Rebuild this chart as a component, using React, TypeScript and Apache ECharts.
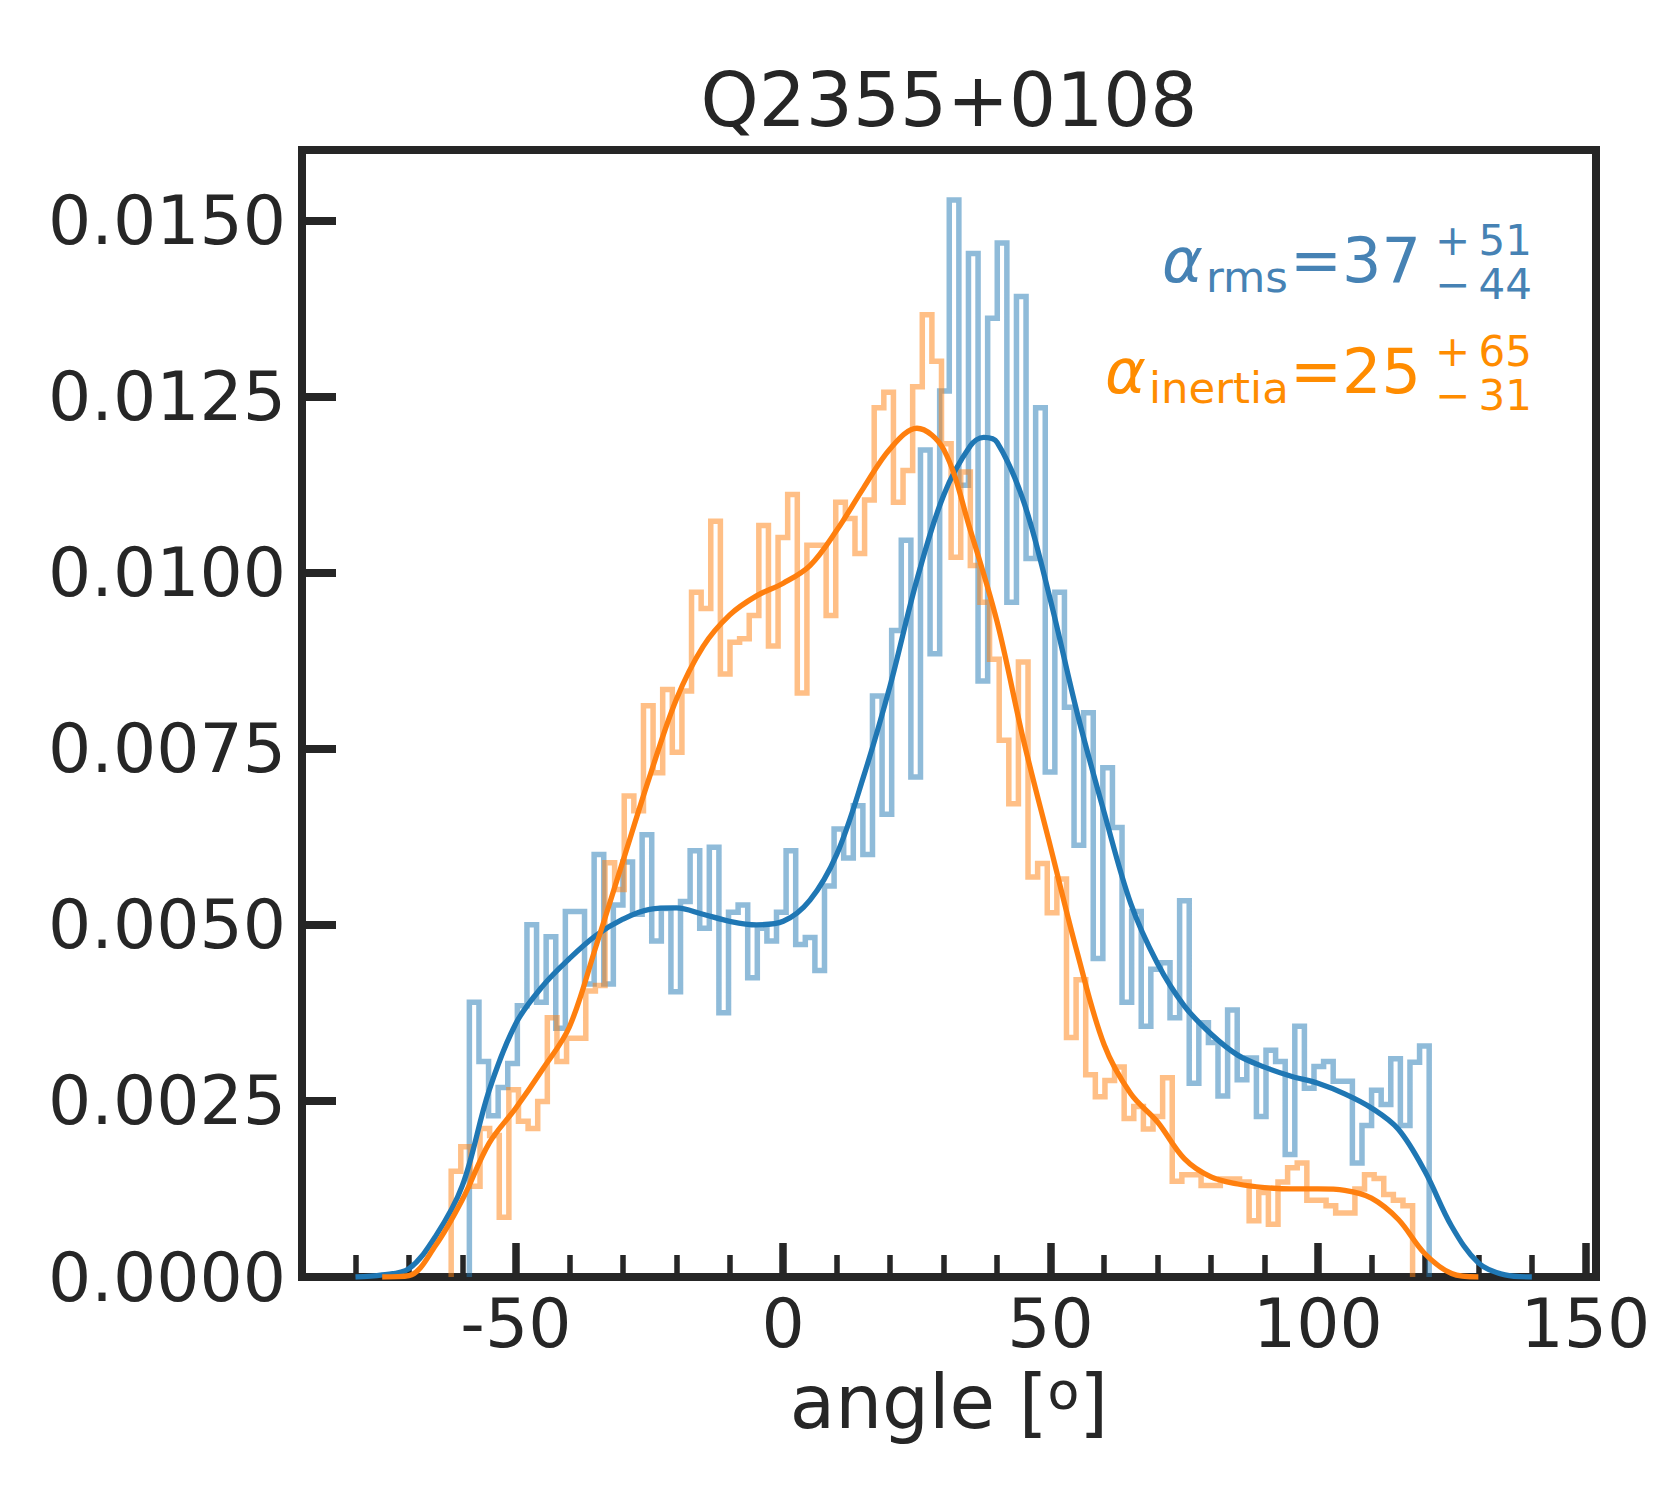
import React, { useEffect, useRef } from "react";
import * as echarts from "echarts";

// ---------- data ----------
const TITLE = "Q2355+0108";
const X_MIN = -90;
const X_MAX = 152;
const Y_MIN = 0;
const Y_MAX = 0.016;
const Y_TICKS = [0, 0.0025, 0.005, 0.0075, 0.01, 0.0125, 0.015];
const X_MAJOR = [-50, 0, 50, 100, 150];
const X_MINOR = [-80, -70, -60, -40, -30, -20, -10, 10, 20, 30, 40, 60, 70, 80, 90, 110, 120, 130, 140];

// histogram densities, in units of 1e-3 (100 equal bins over the range)
const UNIT = 1e-3;
const RMS_RANGE = [-58.7, 120.8];
const RMS_HIST = [
  3.9, 3.06, 2.29, 2.69, 3.03, 3.85, 5.0, 3.9, 4.83, 3.53,
  5.19, 5.19, 4.16, 6.0, 4.16, 5.28, 5.89, 5.15, 6.28, 4.77,
  5.23, 4.05, 5.33, 6.05, 4.95, 6.1, 3.75, 5.18, 5.28, 4.25,
  4.95, 4.77, 5.18, 6.05, 4.72, 4.82, 4.35, 5.55, 6.36, 5.95,
  6.69, 6.0, 8.25, 6.57, 9.18, 10.46, 7.1, 11.74, 8.85, 12.58,
  15.29, 11.24, 14.53, 8.46, 13.61, 14.68, 9.58, 13.92, 10.2, 12.34,
  7.17, 9.72, 8.09, 6.13, 8.01, 4.52, 7.23, 6.38, 3.9, 5.19,
  3.56, 4.37, 4.46, 3.68, 5.34, 2.75, 3.61, 3.33, 2.57, 3.79,
  2.8, 3.11, 2.28, 3.22, 3.06, 1.74, 3.56, 2.68, 2.99, 3.06,
  2.78, 2.78, 1.62, 2.15, 2.65, 2.45, 3.1, 2.15, 3.05, 3.28,
];
const INERTIA_RANGE = [-62.1, 117.7];
const INERTIA_HIST = [
  1.5, 1.85, 1.29, 2.11, 2.01, 0.85, 2.66, 2.21, 2.11, 2.49,
  3.68, 3.06, 3.39, 3.39, 4.06, 4.14, 5.88, 5.5, 6.83, 6.62,
  8.11, 7.16, 8.34, 7.45, 8.32, 9.72, 9.49, 10.73, 8.56, 9.01,
  9.06, 9.39, 10.67, 8.96, 10.5, 11.11, 8.29, 10.39, 10.39, 9.39,
  11.0, 10.77, 10.27, 11.03, 12.34, 12.56, 11.0, 11.45, 12.64, 13.66,
  13.0, 11.83, 10.22, 11.43, 10.1, 9.58, 8.77, 7.62, 6.72, 8.73,
  5.68, 5.87, 5.17, 5.65, 3.4, 4.22, 2.87, 2.56, 2.79, 2.98,
  2.25, 2.42, 2.1, 2.28, 2.83, 1.36, 1.45, 1.45, 1.3, 1.3,
  1.39, 1.39, 1.35, 0.8, 1.2, 0.75, 1.35, 1.55, 1.62, 1.09,
  1.09, 1.01, 0.91, 0.91, 1.25, 1.45, 1.4, 1.17, 1.09, 1.01,
];

// kernel density curves (x in degrees, y in units of 1e-3)
const RMS_KDE_X = [-80, -75, -70, -65, -60, -55, -50, -45, -40, -35, -30, -25, -20, -15, -10, -5, 0, 5, 10, 15, 20, 25, 30, 35, 37.5, 40, 45, 50, 55, 60, 65, 70, 75, 80, 85, 90, 95, 100, 105, 110, 115, 120, 125, 130, 135, 140];
const RMS_KDE_Y = [0, 0.03, 0.12, 0.58, 1.3, 2.65, 3.6, 4.13, 4.52, 4.85, 5.08, 5.22, 5.24, 5.15, 5.05, 5.0, 5.05, 5.35, 6.0, 7.1, 8.4, 9.9, 11.1, 11.8, 11.92, 11.85, 11.0, 9.6, 8.0, 6.6, 5.3, 4.45, 3.85, 3.45, 3.15, 2.98, 2.85, 2.75, 2.6, 2.4, 2.1, 1.5, 0.72, 0.2, 0.03, 0];
const INERTIA_KDE_X = [-75, -70, -65, -60, -55, -50, -45, -40, -35, -30, -25, -20, -15, -10, -5, 0, 5, 10, 15, 20, 25, 30, 35, 40, 45, 50, 55, 60, 65, 70, 75, 80, 85, 90, 95, 100, 105, 110, 115, 120, 125, 130];
const INERTIA_KDE_Y = [0, 0.02, 0.45, 1.1, 1.9, 2.4, 2.95, 3.55, 4.7, 5.9, 7.1, 8.2, 8.95, 9.4, 9.67, 9.85, 10.1, 10.6, 11.2, 11.76, 12.05, 11.75, 10.6, 9.3, 7.6, 6.1, 4.6, 3.3, 2.6, 2.2, 1.68, 1.42, 1.32, 1.27, 1.25, 1.25, 1.23, 1.12, 0.82, 0.33, 0.05, 0];

// annotation texts
const RMS_LABEL = { sym: "α", sub: "rms", val: "=37", plus: "51", minus: "44" };
const INERTIA_LABEL = { sym: "α", sub: "inertia", val: "=25", plus: "65", minus: "31" };

// ---------- styling ----------
const FONT = "DejaVu Sans";
const INK = "#262626";
const BLUE = "#1f77b4";
const ORANGE = "#ff7f0e";
const BLUE_TXT = "#4682b4";
const ORANGE_TXT = "#ff8c00";

function histSteps(range: number[], vals: number[]) {
  const lo = range[0];
  const hi = range[1];
  const w = (hi - lo) / vals.length;
  const pts: number[][] = [[lo, 0]];
  vals.forEach((v, i) => pts.push([lo + i * w, v * UNIT]));
  pts.push([hi, vals[vals.length - 1] * UNIT]);
  pts.push([hi, 0]);
  return pts;
}

function curve(xs: number[], ys: number[]) {
  return xs.map((x, i) => [x, ys[i] * UNIT]);
}

function txt(text: string, x: number, y: number, size: number, color: string, align = "left", italic = false) {
  return {
    type: "text",
    x,
    y,
    silent: true,
    z: 20,
    style: {
      text,
      fontSize: size,
      fontFamily: FONT,
      fontStyle: italic ? "italic" : "normal",
      fill: color,
      align,
      verticalAlign: "middle",
      textAlign: align,
      textVerticalAlign: "middle",
    },
  };
}

function annotation(lab: typeof RMS_LABEL, color: string, symX: number, subX: number, yMain: number, ySub: number, ySup: number, yLow: number) {
  const big = 62;
  const small = 42;
  return [
    txt(lab.sym, symX, yMain, big, color, "left", true),
    txt(lab.sub, subX, ySub, 43.4, color),
    txt(lab.val, 1290, yMain, big, color),
    txt("+\u2009" + lab.plus, 1435, ySup, small, color),
    txt("\u2212\u2009" + lab.minus, 1435, yLow, small, color),
  ];
}

function buildOption() {
  const tickLabel = { fontSize: 68, color: INK, fontFamily: FONT };
  return {
    animation: false,
    backgroundColor: "#ffffff",
    grid: {
      left: 302,
      top: 150,
      width: 1294,
      height: 1127,
      containLabel: false,
      outerBoundsMode: "none",
      show: true,
      borderColor: INK,
      borderWidth: 8,
      backgroundColor: "transparent",
    },
    xAxis: [
      {
        type: "value",
        position: "bottom",
        min: X_MIN,
        max: X_MAX,
        axisLine: { show: false, onZero: false },
        splitLine: { show: false },
        axisTick: {
          show: true,
          inside: true,
          length: 34,
          customValues: X_MAJOR,
          lineStyle: { color: INK, width: 7.5 },
        },
        axisLabel: {
          show: true,
          customValues: X_MAJOR,
          margin: 12,
          ...tickLabel,
        },
        name: "{a|angle [}{s|o}{a|]}",
        nameLocation: "middle",
        nameGap: 88,
        nameTextStyle: {
          fontSize: 74,
          color: INK,
          fontFamily: FONT,
          rich: {
            a: { fontSize: 74, color: INK, fontFamily: FONT, verticalAlign: "middle" },
            s: { fontSize: 52, color: INK, fontFamily: FONT, verticalAlign: "top" },
          },
        },
      },
      {
        type: "value",
        position: "bottom",
        min: X_MIN,
        max: X_MAX,
        axisLine: { show: false, onZero: false },
        splitLine: { show: false },
        axisLabel: { show: false },
        axisTick: {
          show: true,
          inside: true,
          length: 22,
          customValues: X_MINOR,
          lineStyle: { color: INK, width: 5.5 },
        },
      },
    ],
    yAxis: [
      {
        type: "value",
        position: "left",
        min: Y_MIN,
        max: Y_MAX,
        axisLine: { show: false, onZero: false },
        splitLine: { show: false },
        axisTick: {
          show: true,
          inside: true,
          length: 34,
          customValues: Y_TICKS,
          lineStyle: { color: INK, width: 8 },
        },
        axisLabel: {
          show: true,
          customValues: Y_TICKS,
          margin: 16,
          formatter: (v: number) => v.toFixed(4),
          ...tickLabel,
        },
      },
    ],
    series: [
      {
        type: "line",
        name: "rms histogram",
        data: histSteps(RMS_RANGE, RMS_HIST),
        step: "end",
        symbol: "none",
        silent: true,
        emphasis: { disabled: true },
        lineStyle: { color: BLUE, width: 5.5, opacity: 0.5, join: "miter", cap: "butt" },
        z: 2,
      },
      {
        type: "line",
        name: "inertia histogram",
        data: histSteps(INERTIA_RANGE, INERTIA_HIST),
        step: "end",
        symbol: "none",
        silent: true,
        emphasis: { disabled: true },
        lineStyle: { color: ORANGE, width: 5.5, opacity: 0.5, join: "miter", cap: "butt" },
        z: 2,
      },
      {
        type: "line",
        name: "rms kde",
        data: curve(RMS_KDE_X, RMS_KDE_Y),
        smooth: 0.35,
        symbol: "none",
        silent: true,
        emphasis: { disabled: true },
        lineStyle: { color: BLUE, width: 5.3 },
        z: 3,
      },
      {
        type: "line",
        name: "inertia kde",
        data: curve(INERTIA_KDE_X, INERTIA_KDE_Y),
        smooth: 0.35,
        symbol: "none",
        silent: true,
        emphasis: { disabled: true },
        lineStyle: { color: ORANGE, width: 5.3 },
        z: 4,
      },
    ],
    graphic: [
      txt(TITLE, 949, 100, 74, INK, "center"),
      ...annotation(RMS_LABEL, BLUE_TXT, 1162, 1206, 260, 276.5, 240, 284),
      ...annotation(INERTIA_LABEL, ORANGE_TXT, 1105, 1149, 371.6, 388, 351.5, 395.5),
    ],
  };
}

export default function App() {
  const ref = useRef<HTMLDivElement>(null);
  useEffect(() => {
    if (!ref.current) return;
    const chart = echarts.init(ref.current, undefined, { renderer: "svg" });
    chart.setOption(buildOption() as any);
    return () => {
      chart.dispose();
    };
  }, []);
  return (
    <div
      ref={ref}
      style={{ position: "absolute", left: 0, top: 0, width: 1680, height: 1500, background: "#ffffff" }}
    />
  );
}
